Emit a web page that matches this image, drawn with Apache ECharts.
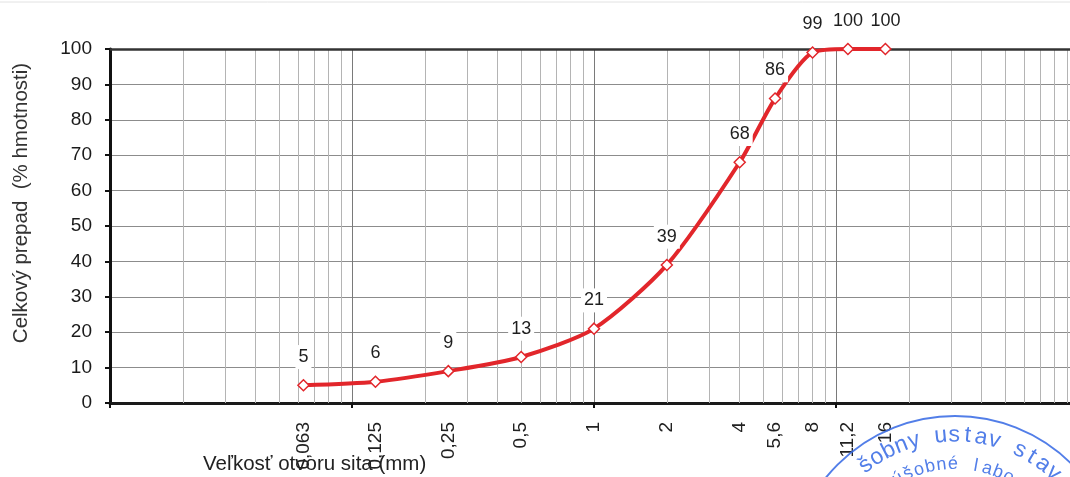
<!DOCTYPE html>
<html>
<head>
<meta charset="utf-8">
<script src="https://cdn.jsdelivr.net/npm/echarts@6/dist/echarts.min.js"></script>
<style>
html,body{margin:0;padding:0;background:#fff;overflow:hidden;width:1070px;height:477px;}
#chart{width:1080px;height:477px;}
</style>
</head>
<body>
<div id="chart"></div>
<script>
// ---- data ----
const sieveSizes = [0.063, 0.125, 0.25, 0.5, 1, 2, 4, 5.6, 8, 11.2, 16];
const sieveLabels = ['0,063', '0,125', '0,25', '0,5', '1', '2', '4', '5,6', '8', '11,2', '16'];
const passing = [5, 6, 9, 13, 21, 39, 68, 86, 99, 100, 100];
const yTicks = [0, 10, 20, 30, 40, 50, 60, 70, 80, 90, 100];
const yAxisTitle = 'Celkový prepad  (% hmotnosti)';
const xAxisTitle = 'Veľkosť otvoru sita (mm)';
const stampOuter = 'šobny ustav stav';
const stampInner = 'kúšobné labo';

// minor log grid positions (2..9 per decade) – grid decoration only
const minorGrid = [];
[0.01, 0.1, 1, 10].forEach(d => { for (let k = 2; k <= 9; k++) minorGrid.push(+(d * k).toPrecision(3)); });

const FONT = '"Liberation Sans", Arial, sans-serif';
const RED = '#e2262b';
const BLUE = '#3f70e6';

function labelFor(v) {
  let best = 0, bd = Infinity;
  sieveSizes.forEach((s, i) => { const d = Math.abs(Math.log(s) - Math.log(v)); if (d < bd) { bd = d; best = i; } });
  return sieveLabels[best];
}

// stamp text along an arc
const stampCx = 955, stampCy = 582;
function arcText(str, r, startDeg, stepDeg, size) {
  const out = [];
  for (let i = 0; i < str.length; i++) {
    const th = (startDeg + i * stepDeg) * Math.PI / 180;
    out.push({
      type: 'text',
      x: stampCx + r * Math.sin(th),
      y: stampCy - r * Math.cos(th),
      rotation: -th,
      silent: true,
      z: 100,
      style: { text: str[i], fill: BLUE, font: size + 'px ' + FONT, align: 'center', verticalAlign: 'middle', opacity: 0.9 }
    });
  }
  return out;
}

const chart = echarts.init(document.getElementById('chart'), null, { renderer: 'canvas' });
chart.setOption({
  animation: false,
  backgroundColor: '#fff',
  textStyle: { fontFamily: FONT },
  grid: { left: 110, top: 49, width: 968, height: 354, containLabel: false },
  xAxis: {
    type: 'log', logBase: 10, min: 0.01, max: 100,
    axisLine: { show: true, onZero: false, lineStyle: { color: '#1a1a1a', width: 3 } },
    axisTick: { show: true, length: 5, lineStyle: { color: '#111', width: 2 } },
    axisLabel: {
      customValues: sieveSizes,
      rotate: 90, margin: 19, fontSize: 19, color: '#222', fontFamily: FONT,
      formatter: v => labelFor(v)
    },
    splitLine: { show: true, lineStyle: { color: '#7a7a7a', width: 1 } }
  },
  yAxis: {
    type: 'value', min: 0, max: 100, interval: 10,
    axisLine: { show: true, lineStyle: { color: '#111', width: 3 } },
    axisTick: { show: true, length: 5, lineStyle: { color: '#111', width: 2 } },
    axisLabel: { fontSize: 19, color: '#1a1a1a', margin: 18, fontFamily: FONT,
      formatter: v => (yTicks.indexOf(v) >= 0 ? String(v) : '') },
    splitLine: { show: true, lineStyle: { color: '#8c8c8c', width: 1 } }
  },
  series: [
    {
      type: 'line', data: [], z: 1, silent: true,
      markLine: {
        silent: true, symbol: ['none', 'none'], animation: false,
        label: { show: false },
        data: minorGrid.map(v => ({ xAxis: v, lineStyle: { color: '#b4b4b4', width: 1, type: 'solid' } }))
          .concat([{ yAxis: 100, lineStyle: { color: '#333', width: 2.5, type: 'solid' } }])
      }
    },
    {
      type: 'line', z: 5,
      data: sieveSizes.map((s, i) => [s, passing[i]]),
      smooth: 0.25,
      lineStyle: { color: RED, width: 4 },
      symbol: 'diamond', symbolSize: 11, showAllSymbol: true,
      itemStyle: { color: '#fff', borderColor: RED, borderWidth: 1.5 },
      label: {
        show: true, position: 'top', distance: 10,
        fontSize: 18, color: '#1e1e1e', fontFamily: FONT,
        backgroundColor: '#fff', padding: [3, 3],
        formatter: p => String(passing[p.dataIndex])
      }
    }
  ],
  graphic: [
    { type: 'line', silent: true, shape: { x1: 0, y1: 2, x2: 1070, y2: 2 }, style: { stroke: '#e2e2e2', lineWidth: 1 } },
    { type: 'text', x: 21, y: 203, rotation: Math.PI / 2, silent: true, z: 50,
      style: { text: yAxisTitle, fill: '#333', font: '20.5px ' + FONT, align: 'center', verticalAlign: 'middle' } },
    { type: 'text', x: 203, y: 464, silent: true, z: 50,
      style: { text: xAxisTitle, fill: '#222', font: '20.5px ' + FONT, align: 'left', verticalAlign: 'middle' } },
    { type: 'circle', silent: true, z: 100, shape: { cx: stampCx, cy: stampCy, r: 166 },
      style: { fill: 'none', stroke: BLUE, lineWidth: 2, opacity: 0.9 } }
  ].concat(arcText(stampOuter, 147, -37.4, 5.3, 23)).concat(arcText(stampInner, 118, -34.6, 5.6, 18))
});
</script>
</body>
</html>
